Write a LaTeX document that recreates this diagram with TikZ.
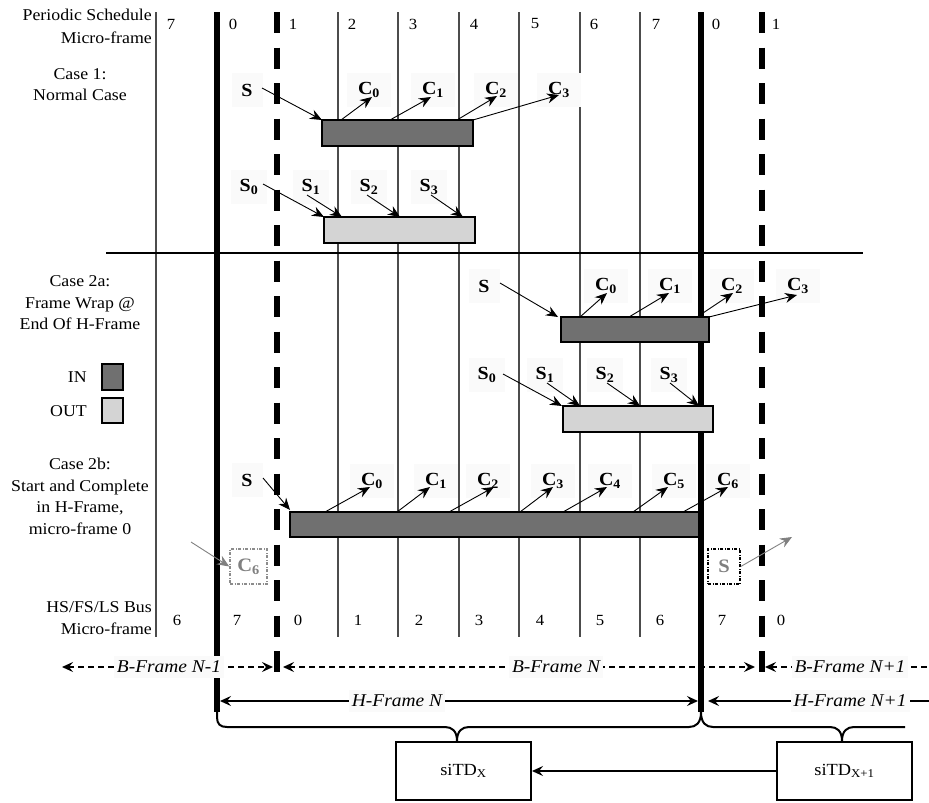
\documentclass[tikz,border=0pt]{standalone}
\usepackage{fontspec}
\setmainfont{Liberation Serif}[FakeStretch=1.08]
\usetikzlibrary{arrows.meta}
\begin{document}
\begin{tikzpicture}[x=1pt,y=-1pt,
  thinv/.style={line width=1.2pt,draw=black!70},
  heavy/.style={line width=6.5pt},
  heavydash/.style={line width=6.5pt,dash pattern=on 21pt off 14.5pt},
  lbl/.style={font=\fontsize{16.5}{21.5}\selectfont,inner sep=0pt},
  num/.style={font=\fontsize{15.5}{18}\selectfont,inner sep=0pt},
  tagS/.style={font=\fontsize{18.5}{20}\selectfont\bfseries,fill=black!2,inner sep=0pt,minimum width=31pt,minimum height=34pt},
  tagN/.style={tagS,minimum width=36pt},
  tagC/.style={tagS,minimum width=44pt},
  inbar/.style={draw,line width=2pt,fill=black!56},
  outbar/.style={draw,line width=2pt,fill=black!17},
  arr/.style={-{Stealth[length=12pt,width=10pt,inset=4pt]},line width=0.9pt},
  garr/.style={line width=0.9pt,draw=black!50,-{Stealth[length=12pt,width=10pt,inset=4pt,fill=black!50]}},
  ghost/.style={font=\fontsize{19}{20}\selectfont\bfseries,text=black!50,inner sep=0pt,line width=1.5pt},
  ilbl/.style={font=\fontsize{18}{20}\selectfont\itshape,fill=black!2,inner xsep=3pt,inner ysep=5pt},
  bdash/.style={line width=1.8pt,dash pattern=on 6pt off 4pt},
  bsolid/.style={line width=2pt},
  tipL/.style={{Stealth[length=11pt,width=10pt,inset=4pt]}-},
  tipR/.style={-{Stealth[length=11pt,width=10pt,inset=4pt]}},
  tipLR/.style={{Stealth[length=11pt,width=10pt,inset=4pt]}-{Stealth[length=11pt,width=10pt,inset=4pt]}},
  tdbox/.style={draw,line width=2pt,minimum width=135pt,minimum height=58pt,font=\fontsize{17}{20}\selectfont,inner sep=0pt}
]
\useasboundingbox (0,0) rectangle (929,803);

% thin grid lines
\foreach \x in {156,338,398,459,519,580,640} \draw[thinv] (\x,12) -- (\x,637);
\draw[line width=1.5pt] (106,253) -- (863,253);

% column numbers
\foreach \x/\t [count=\i] in {171/7,233/0,293/1,352/2,413/3,474/4,535/5,594/6,656/7,716/0,776/1}
  \node[num] (top\i) at (\x,24) {\t};
\foreach \x/\t [count=\i] in {177/6,237/7,298/0,358/1,419/2,479/3,540/4,600/5,660/6,722/7,781/0}
  \node[num] (bot\i) at (\x,620) {\t};

% left labels
\node[lbl,anchor=east] (ps1) at (152,15) {Periodic Schedule};
\node[lbl,anchor=east] (ps2) at (152,38) {Micro-frame};
\node[lbl,align=center] (case1) at (80,84.5) {Case 1:\\Normal Case};
\node[lbl,align=center] (case2a) at (80,303) {Case 2a:\\Frame Wrap @\\End Of H-Frame};
\node[lbl,anchor=east] (inl) at (87,377) {IN};
\node[lbl,anchor=east] (outl) at (87,411) {OUT};
\draw[line width=2pt,fill=black!56] (102,364) rectangle (123,390);
\draw[line width=2pt,fill=black!17] (102,398) rectangle (123,423);
\node[lbl,align=center] (case2b) at (80,496.5) {Case 2b:\\Start and Complete\\in H-Frame,\\micro-frame 0};
\node[lbl,anchor=east] (bus1) at (152,607) {HS/FS/LS Bus};
\node[lbl,anchor=east] (bus2) at (152,629) {Micro-frame};

% tags case 1
\node[tagS] (a) at (247,90) {S};
\node[tagC] (ac0) at (369,90) {C\textsubscript{0}};
\node[tagC] (ac1) at (433,90) {C\textsubscript{1}};
\node[tagC] (ac2) at (496,90) {C\textsubscript{2}};
\node[tagC] (ac3) at (559,90) {C\textsubscript{3}};
\node[tagN] (as0) at (249,187) {S\textsubscript{0}};
\node[tagN] (as1) at (311,187) {S\textsubscript{1}};
\node[tagN] (as2) at (369,187) {S\textsubscript{2}};
\node[tagN] (as3) at (429,187) {S\textsubscript{3}};
% tags case 2a
\node[tagS] (b) at (484,286) {S};
\node[tagC] (bc0) at (606,286) {C\textsubscript{0}};
\node[tagC] (bc1) at (670,286) {C\textsubscript{1}};
\node[tagC] (bc2) at (732,286) {C\textsubscript{2}};
\node[tagC] (bc3) at (798,286) {C\textsubscript{3}};
\node[tagN] (bs0) at (487,375) {S\textsubscript{0}};
\node[tagN] (bs1) at (545,375) {S\textsubscript{1}};
\node[tagN] (bs2) at (605,375) {S\textsubscript{2}};
\node[tagN] (bs3) at (669,375) {S\textsubscript{3}};
% tags case 2b
\node[tagS] (c) at (247,480) {S};
\node[tagC] (cc0) at (372,481) {C\textsubscript{0}};
\node[tagC] (cc1) at (436,481) {C\textsubscript{1}};
\node[tagC] (cc2) at (488,481) {C\textsubscript{2}};
\node[tagC] (cc3) at (553,481) {C\textsubscript{3}};
\node[tagC] (cc4) at (610,481) {C\textsubscript{4}};
\node[tagC] (cc5) at (674,481) {C\textsubscript{5}};
\node[tagC] (cc6) at (728,481) {C\textsubscript{6}};

% frame boundaries
\draw[heavy] (217,12) -- (217,712);
\draw[heavy] (701,12) -- (701,712);
\draw[heavydash] (277,12) -- (277,673);
\draw[heavydash] (762,12) -- (762,673);

% bars
\draw[inbar] (322,120) rectangle (473,146);
\draw[outbar] (324,217) rectangle (475,243);
\draw[inbar] (561,317) rectangle (709,342);
\draw[outbar] (563,406) rectangle (713,432);
\draw[inbar] (290,512) rectangle (699,537);

% arrow end points, case 1
\coordinate (p1s) at (262,88);   \coordinate (q1s) at (322,120);
\coordinate (p1c0) at (341,120); \coordinate (q1c0) at (372,97);
\coordinate (p1c1) at (390,120); \coordinate (q1c1) at (431,97);
\coordinate (p1c2) at (457,120); \coordinate (q1c2) at (497,96);
\coordinate (p1c3) at (473,120); \coordinate (q1c3) at (559,95);
\coordinate (p1s0) at (263,184); \coordinate (q1s0) at (324,217);
\coordinate (p1s1) at (307,195); \coordinate (q1s1) at (342,217);
\coordinate (p1s2) at (367,195); \coordinate (q1s2) at (400,217);
\coordinate (p1s3) at (431,195); \coordinate (q1s3) at (463,217);
\foreach \n in {s,c0,c1,c2,c3,s0,s1,s2,s3} \draw[arr] (p1\n) -- (q1\n);
% case 2a
\coordinate (p2s) at (500,283);  \coordinate (q2s) at (558,317);
\coordinate (p2c0) at (580,317); \coordinate (q2c0) at (607,293);
\coordinate (p2c1) at (629,317); \coordinate (q2c1) at (669,293);
\coordinate (p2c2) at (697,317); \coordinate (q2c2) at (733,293);
\coordinate (p2c3) at (709,317); \coordinate (q2c3) at (797,295);
\coordinate (p2s0) at (503,374); \coordinate (q2s0) at (562,406);
\coordinate (p2s1) at (547,383); \coordinate (q2s1) at (580,406);
\coordinate (p2s2) at (607,383); \coordinate (q2s2) at (640,406);
\coordinate (p2s3) at (670,383); \coordinate (q2s3) at (699,406);
\foreach \n in {s,c0,c1,c2,c3,s0,s1,s2,s3} \draw[arr] (p2\n) -- (q2\n);
% case 2b
\coordinate (p3s) at (263,478);  \coordinate (q3s) at (290,510);
\coordinate (p3c0) at (325,512); \coordinate (q3c0) at (370,487);
\coordinate (p3c1) at (397,512); \coordinate (q3c1) at (430,487);
\coordinate (p3c2) at (449,512); \coordinate (q3c2) at (494,487);
\coordinate (p3c3) at (520,512); \coordinate (q3c3) at (553,487);
\coordinate (p3c4) at (563,512); \coordinate (q3c4) at (607,487);
\coordinate (p3c5) at (633,512); \coordinate (q3c5) at (668,487);
\coordinate (p3c6) at (683,512); \coordinate (q3c6) at (728,487);
\foreach \n in {s,c0,c1,c2,c3,c4,c5,c6} \draw[arr] (p3\n) -- (q3\n);

% ghost boxes
\node[ghost,draw=black!45,dash pattern=on 3pt off 1.5pt on 1pt off 1.5pt,minimum width=37pt,minimum height=35pt] (g6) at (248.5,566.5) {C\textsubscript{6}};
\node[ghost,draw=black,dash pattern=on 3pt off 1.5pt on 1pt off 1.5pt,minimum width=32pt,minimum height=35pt] (gs) at (724,566.5) {S};
\coordinate (g6from) at (191,542);
\coordinate (gsto) at (792,537);
\draw[garr] (g6from) -- (g6.west);
\draw[garr] (gs.east) -- (gsto);

% B-frame row
\coordinate (bA) at (62,667);  \coordinate (bB) at (273,667);
\coordinate (bC) at (283,667); \coordinate (bD) at (755,667);
\coordinate (bE) at (765,667); \coordinate (bF) at (940,667);
\draw[bdash,tipLR] (bA) -- (bB);
\draw[bdash,tipLR] (bC) -- (bD);
\draw[bdash,tipL] (bE) -- (bF);
\node[ilbl] (bf1) at (169,667) {B-Frame N-1};
\node[ilbl] (bf2) at (556,667) {B-Frame N};
\node[ilbl] (bf3) at (850,667) {B-Frame N+1};
% H-frame row
\coordinate (hA) at (220,701); \coordinate (hB) at (698,701);
\coordinate (hC) at (708,701); \coordinate (hD) at (940,701);
\draw[bsolid,tipLR] (hA) -- (hB);
\draw[bsolid,tipL] (hC) -- (hD);
\node[ilbl] (hf1) at (397,701) {H-Frame N};
\node[ilbl] (hf2) at (850,701) {H-Frame N+1};

% braces
\draw[line width=2pt,line join=round]
  (217,705) -- (217,717) .. controls (217,724) and (220,727) .. (227,727) -- (445,727)
  .. controls (452,727) and (457,731) .. (457,741)
  .. controls (457,731) and (462,727) .. (469,727) -- (689,727)
  .. controls (696,727) and (701,723) .. (701,712)
  .. controls (701,723) and (706,727) .. (713,727) -- (830,727)
  .. controls (837,727) and (842,731) .. (842,741)
  .. controls (842,731) and (847,727) .. (854,727) -- (905,727);

% siTD boxes
\node[tdbox] (sx) at (463.5,771) {siTD\textsubscript{X}};
\node[tdbox] (sx1) at (844.5,771) {siTD\textsubscript{X+1}};
\draw[bsolid,tipR] (sx1) -- (sx);
\end{tikzpicture}
\end{document}
